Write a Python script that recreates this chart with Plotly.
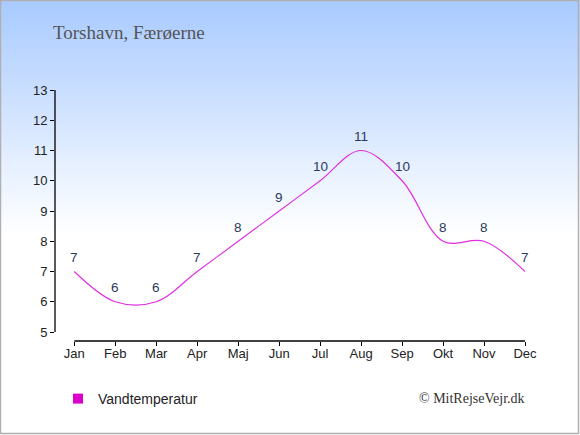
import plotly.graph_objects as go

months = ["Jan", "Feb", "Mar", "Apr", "Maj", "Jun", "Jul", "Aug", "Sep", "Okt", "Nov", "Dec"]
water_temp = [7, 6, 6, 7, 8, 9, 10, 11, 10, 8, 8, 7]
y_ticks = [5, 6, 7, 8, 9, 10, 11, 12, 13]
series_name = "Vandtemperatur"
title_text = "Torshavn, Færøerne"
credit_text = "© MitRejseVejr.dk"

W, H = 580, 435
L, R, T, B = 55, 525, 90, 341  # plot area in px

def px_x(px):
    return (px - L) / (R - L)

def px_y(py):
    return (B - py) / (B - T)

x_idx = list(range(len(months)))

fig = go.Figure()
fig.add_trace(go.Scatter(
    x=x_idx, y=water_temp, mode="lines",
    line=dict(color="#e030e0", width=1.2, shape="spline", smoothing=1.0),
    showlegend=False, hoverinfo="skip",
))
fig.add_trace(go.Scatter(
    x=[None], y=[None], mode="markers", name=series_name,
    marker=dict(symbol="square", size=10, color="#dd00cc"),
    showlegend=True,
))

label_annotations = [
    dict(x=xi, y=v, xref="x", yref="y", text=str(v), showarrow=False,
         yshift=14, xanchor="center", yanchor="middle",
         font=dict(family="Liberation Sans, Arial", size=13.5, color="#2b3b5c"))
    for xi, v in zip(x_idx, water_temp)
]

shapes = []
# gradient background
top = (168, 202, 255)
grad_end = 235
n = 118
for i in range(n):
    y0 = i * grad_end / n
    y1 = (i + 1) * grad_end / n + 0.5
    f = (i + 0.5) / n
    c = tuple(int(round(top[k] + (255 - top[k]) * f)) for k in range(3))
    shapes.append(dict(type="rect", xref="paper", yref="paper", layer="below",
                       x0=px_x(0), x1=px_x(W), y0=px_y(y0), y1=px_y(y1),
                       line=dict(width=0), fillcolor="rgb(%d,%d,%d)" % c))
# axis lines
shapes.append(dict(type="line", xref="paper", yref="y", x0=0, x1=0, y0=y_ticks[0], y1=y_ticks[-1],
                   line=dict(color="black", width=1.3)))
shapes.append(dict(type="line", xref="x", yref="paper", x0=0, x1=len(months) - 1, y0=0, y1=0,
                   line=dict(color="black", width=1.3)))
# border
shapes.append(dict(type="rect", xref="paper", yref="paper",
                   x0=px_x(0.5), x1=px_x(W - 1.5), y0=px_y(0.5), y1=px_y(H - 1.5),
                   line=dict(color="#b0b0b0", width=1.5), fillcolor="rgba(0,0,0,0)"))

step = 41.0
x_left = -(74.3 - L) / step
ppu = (332 - 90) / 8.0
y_bottom = 5 - (B - 332) / ppu

fig.update_layout(
    width=W, height=H,
    margin=dict(l=L, r=W - R, t=T, b=H - B),
    paper_bgcolor="white", plot_bgcolor="rgba(0,0,0,0)",
    shapes=shapes,
    showlegend=True,
    legend=dict(x=px_x(58), y=px_y(399), xanchor="left", yanchor="middle",
                bgcolor="rgba(0,0,0,0)", borderwidth=0,
                font=dict(family="Liberation Sans, Arial", size=14, color="#222222")),
    xaxis=dict(range=[x_left, len(months) - 1], tickmode="array", tickvals=x_idx, ticktext=months,
               showgrid=False, zeroline=False, showline=False, ticks="outside", ticklen=4,
               tickcolor="black", tickwidth=1.3, ticklabelstandoff=-4,
               tickfont=dict(family="Liberation Sans, Arial", size=13, color="#222222"), fixedrange=True),
    yaxis=dict(range=[y_bottom, 13], tickmode="array", tickvals=y_ticks,
               showgrid=False, zeroline=False, showline=False, ticks="outside", ticklen=4,
               tickcolor="black", tickwidth=1.3,
               tickfont=dict(family="Liberation Sans, Arial", size=13, color="#222222"), fixedrange=True),
    annotations=label_annotations + [
        dict(text=title_text, xref="paper", yref="paper", x=px_x(51), y=px_y(33),
             xanchor="left", yanchor="middle", showarrow=False,
             font=dict(family="Liberation Serif, Times New Roman, serif", size=19, color="#555555")),
        dict(text=credit_text, xref="paper", yref="paper", x=px_x(527), y=px_y(398),
             xanchor="right", yanchor="middle", showarrow=False,
             font=dict(family="Liberation Serif, Times New Roman, serif", size=14, color="#333333")),
    ],
)

fig.write_html("out.html", config={"displayModeBar": False},
               post_script="document.body.style.margin='0';document.body.style.overflow='hidden';")
